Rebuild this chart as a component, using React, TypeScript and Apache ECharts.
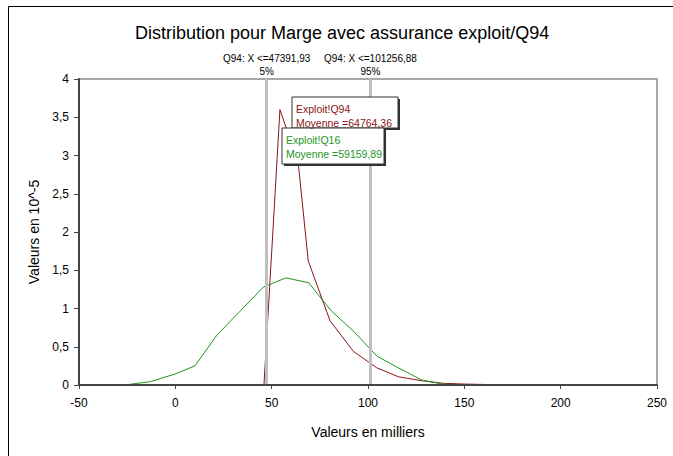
import React, { useEffect, useRef } from "react";
import * as echarts from "echarts";

const title = "Distribution pour Marge avec assurance exploit/Q94";
const xTicks = { min: -50, max: 250, interval: 50 };
const yTicks = { min: 0, max: 4, interval: 0.5 };

// Exploit!Q16 (green)
const q16X = [-43.4, -36, -25.2, -13.1, -0.2, 10.2, 21.5, 33.4, 45.7, 57.4, 69.2, 80.9, 92.6, 104.5, 116, 127.9, 139, 151, 163];
const q16Y = [0, 0, 0.004, 0.043, 0.143, 0.251, 0.65, 0.96, 1.28, 1.4, 1.337, 0.97, 0.7, 0.38, 0.22, 0.065, 0.01, 0.004, 0];

// Exploit!Q94 (red)
const q94X = [46, 54.3, 63.8, 69, 80.3, 92.4, 104.5, 115.7, 127.9, 139, 150.7, 162.4, 174, 186, 198, 203];
const q94Y = [0, 3.6, 2.9, 1.62, 0.84, 0.44, 0.226, 0.108, 0.056, 0.022, 0.012, 0.006, 0.003, 0.0015, 0.0005, 0];

const quantileValues = [47.39193, 101.25688];
const quantileLabels = ["Q94: X <=47391,93\n5%", "Q94: X <=101256,88\n95%"];

const annotations = [
  { lines: ["Exploit!Q94", "Moyenne =64764,36"], color: "#8c1414" },
  { lines: ["Exploit!Q16", "Moyenne =59159,89"], color: "#1c961c" },
];

const FONT = "'Liberation Sans', Arial, sans-serif";

function box(x: number, y: number, w: number, h: number, a: { lines: string[]; color: string }) {
  return {
    type: "group",
    x,
    y,
    z: 100,
    children: [
      { type: "rect", z: 100, shape: { x: 2, y: 2, width: w, height: h }, style: { fill: "#333" } },
      { type: "rect", z: 101, shape: { x: 0, y: 0, width: w, height: h }, style: { fill: "#fff", stroke: "#333", lineWidth: 1 } },
      {
        type: "text",
        z: 102,
        x: 4,
        y: 5,
        style: { text: a.lines.join("\n"), fill: a.color, font: `10.5px ${FONT}`, lineHeight: 14 },
      },
    ],
  };
}

export default function App() {
  const ref = useRef<HTMLDivElement>(null);
  useEffect(() => {
    if (!ref.current) return;
    const chart = echarts.init(ref.current, null, { renderer: "svg" });
    const pair = (xs: number[], ys: number[]) => xs.map((x, i) => [x, ys[i]]);
    const frameAxis = {
      axisLine: { show: true, onZero: false, lineStyle: { color: "#a8a8a8", width: 2 } },
      axisTick: { show: false },
      axisLabel: { show: false },
      splitLine: { show: false },
    };
    chart.setOption({
      animation: false,
      title: {
        text: title,
        left: 135,
        top: 24,
        padding: 0,
        textStyle: { fontFamily: FONT, fontSize: 18, fontWeight: "normal", color: "#000" },
      },
      grid: { left: 79, top: 79, right: 16, bottom: 71 },
      xAxis: [
        {
          type: "value",
          min: xTicks.min,
          max: xTicks.max,
          interval: xTicks.interval,
          name: "Valeurs en milliers",
          nameLocation: "middle",
          nameGap: 40,
          nameTextStyle: { fontFamily: FONT, fontSize: 14, color: "#000" },
          axisLine: { show: true, onZero: false, lineStyle: { color: "#444", width: 2 } },
          axisTick: { show: true, length: 4, lineStyle: { color: "#444", width: 1 } },
          axisLabel: { fontFamily: FONT, fontSize: 12, color: "#000", margin: 12 },
          splitLine: { show: false },
          z: 5,
        },
        { type: "value", position: "top", min: xTicks.min, max: xTicks.max, ...frameAxis, z: 1 },
      ],
      yAxis: [
        {
          type: "value",
          min: yTicks.min,
          max: yTicks.max,
          interval: yTicks.interval,
          name: "Valeurs en 10^-5",
          nameLocation: "middle",
          nameGap: 38,
          nameTextStyle: { fontFamily: FONT, fontSize: 14, color: "#000" },
          axisLine: { show: true, onZero: false, lineStyle: { color: "#444", width: 2 } },
          axisTick: { show: true, length: 5, lineStyle: { color: "#444", width: 1 } },
          axisLabel: {
            fontFamily: FONT,
            fontSize: 12,
            color: "#000",
            margin: 10,
            formatter: (v: number) => String(v).replace(".", ","),
          },
          splitLine: { show: false },
          z: 5,
        },
        { type: "value", position: "right", min: yTicks.min, max: yTicks.max, ...frameAxis, z: 1 },
      ],
      series: [
        {
          type: "line",
          data: [],
          silent: true,
          markLine: {
            silent: true,
            symbol: "none",
            lineStyle: { color: "#c0c0c0", width: 3, type: "solid" },
            label: {
              show: true,
              position: "end",
              distance: 1,
              fontFamily: FONT,
              fontSize: 10,
              color: "#000",
              lineHeight: 13,
              align: "center",
              formatter: (p: any) => quantileLabels[p.dataIndex],
            },
            data: quantileValues.map((v) => ({ xAxis: v })),
          },
        },
        {
          name: "Exploit!Q94",
          type: "line",
          data: pair(q94X, q94Y),
          symbol: "none",
          lineStyle: { color: "#8c1414", width: 1 },
          itemStyle: { color: "#8c1414" },
        },
        {
          name: "Exploit!Q16",
          type: "line",
          data: pair(q16X, q16Y),
          symbol: "none",
          lineStyle: { color: "#1c961c", width: 1 },
          itemStyle: { color: "#1c961c" },
        },
      ],
      graphic: [
        { type: "rect", shape: { x: 8.5, y: 6.5, width: 700, height: 500 }, style: { fill: "none", stroke: "#000", lineWidth: 1 }, z: -10 },
        box(292, 97, 106, 31, annotations[0]),
        box(282, 128, 102, 36, annotations[1]),
      ],
    });
    return () => chart.dispose();
  }, []);
  return <div ref={ref} style={{ position: "absolute", left: 0, top: 0, width: 673, height: 456 }} />;
}
